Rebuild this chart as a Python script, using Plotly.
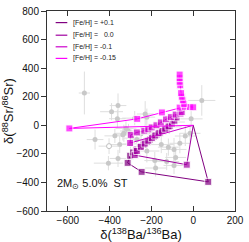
import plotly.graph_objects as go

# ---- grain measurements (grey) ----
grain_x = [-521, -360, -391, -363, -470, -406, -360, -375, -332, -337, -352, -322, -310, -295,
           -222, -184, -92, -153, -222, -230, -280, 41, -10, -100, -38, -64, -92, -84, -115,
           -199, -15, -127, -180, -119, -250, -270, -300]
grain_y = [226, 138, 95, 46, -100, -265, -232, -74, -56, -67, -135, -22, -40, -90,
           -180, -247, -281, -135, 57, 79, 50, 174, 45, 23, -75, -126, -169, -225, -11,
           -56, -56, -254, -299, -153, -60, -100, -130]
grain_ex = [27, 40, 55, 40, 40, 70, 40, 50, 40, 40, 45, 50, 40, 40,
            60, 50, 50, 60, 40, 40, 60, 65, 55, 60, 50, 50, 60, 50, 60,
            60, 50, 60, 50, 50, 50, 40, 40]
grain_ey = [150, 85, 60, 60, 70, 50, 60, 50, 60, 40, 60, 50, 50, 60,
            80, 60, 60, 60, 60, 90, 50, 107, 60, 60, 70, 70, 80, 70, 50,
            60, 60, 60, 60, 60, 50, 60, 60]
hollow_x = [-403]
hollow_y = [-146]
hollow_ex = [50]
hollow_ey = [55]

# ---- AGB model tracks ----
model_names = ["[Fe/H] = +0.1", "[Fe/H] = \u00a0 0.0", "[Fe/H] = -0.1", "[Fe/H] = -0.15"]
model_colors = ["#800080", "#A000A0", "#CC00CC", "#FF00FF"]

x_p01 = [0, 72, -247, -314, -302, -288, -272, -255, -238, -222, -207, -190, -176, -160, -145, -128, -112]
y_p01 = [0, -396, -326, -263, -213, -190, -170, -152, -135, -118, -100, -82, -68, -52, -38, -22, -5]

x_000 = [0, -31, -280, -270, -250, -232, -215, -198, -182, -166, -150, -134, -118, -102, -90, -80]
y_000 = [0, -276, -209, -180, -150, -128, -108, -90, -72, -56, -40, -24, -8, 12, 32, 55]

x_m01 = [0, -302, -299, -270, -234, -215, -199, -176, -155, -130, -107, -84, -61, -55]
y_m01 = [0, -124, -67, -50, -38, -28, -15, 0, 20, 42, 57, 75, 82, 92]

x_m015 = [0, -593, -268, -150, -65, -40, -15, 0, -45, -50, -55, -58, -62, -65, -65, -65]
y_m015 = [0, -22, 45, 90, 124, 130, 128, 126, 150, 175, 200, 225, 280, 305, 330, 355]

models_x = [x_p01, x_000, x_m01, x_m015]
models_y = [y_p01, y_000, y_m01, y_m015]

fig = go.Figure()

# grey grains
fig.add_trace(go.Scatter(
    x=grain_x, y=grain_y, mode="markers",
    marker=dict(size=5, color="#C8C8C8"),
    error_x=dict(type="data", array=grain_ex, color="#DEDEDE", thickness=1, width=0),
    error_y=dict(type="data", array=grain_ey, color="#DEDEDE", thickness=1, width=0),
    showlegend=False, hoverinfo="skip"))
fig.add_trace(go.Scatter(
    x=hollow_x, y=hollow_y, mode="markers",
    marker=dict(size=5, color="white", line=dict(color="#C0C0C0", width=1)),
    error_x=dict(type="data", array=hollow_ex, color="#DEDEDE", thickness=1, width=0),
    error_y=dict(type="data", array=hollow_ey, color="#DEDEDE", thickness=1, width=0),
    showlegend=False, hoverinfo="skip"))

# model tracks (first point = initial composition, no marker)
for mx, my, col, name in zip(models_x, models_y, model_colors, model_names):
    sizes = [0] + [7] * (len(mx) - 1)
    fig.add_trace(go.Scatter(
        x=mx, y=my, mode="lines+markers", name=name,
        line=dict(color=col, width=1),
        marker=dict(symbol="square", size=sizes, color=col),
        showlegend=False))

# dummy trace on right axis
fig.add_trace(go.Scatter(x=[None], y=[None], yaxis="y2", showlegend=False))

# manual legend (line swatches + labels)
leg_y = [0.942, 0.879, 0.821, 0.763]
for yy, col, name in zip(leg_y, model_colors, model_names):
    fig.add_shape(type="line", xref="paper", yref="paper",
                  x0=0.046, x1=0.108, y0=yy, y1=yy,
                  line=dict(color=col, width=1.2))
    fig.add_annotation(xref="paper", yref="paper", x=0.125, y=yy, text=name,
                       showarrow=False, xanchor="left", yanchor="middle",
                       font=dict(size=7, color="#222"))

fig.add_annotation(xref="paper", yref="paper", x=0.045, y=0.135,
                   text="2M<sub>\u2299</sub> 5.0%\u00a0 ST", showarrow=False,
                   xanchor="left", yanchor="middle", font=dict(size=11, color="#111"))

axis_common = dict(showgrid=False, zeroline=False, showline=True, linecolor="#333",
                   linewidth=1, tickcolor="#333", ticklen=5, tickwidth=1,
                   tickfont=dict(size=10, color="#111"), dtick=200)

fig.update_layout(
    width=249, height=242,
    margin=dict(l=43, r=10, t=5, b=30),
    plot_bgcolor="white", paper_bgcolor="white",
    font=dict(family="Liberation Sans, Arial, sans-serif", color="#111"),
    xaxis=dict(range=[-700, 200], ticks="inside", mirror="ticks",
               title=dict(text="\u03b4(<sup>138</sup>Ba/<sup>136</sup>Ba)", font=dict(size=13), standoff=2),
               **axis_common),
    yaxis=dict(range=[-600, 800], ticks="outside", mirror=True,
               title=dict(text="\u03b4(<sup>88</sup>Sr/<sup>86</sup>Sr)", font=dict(size=13), standoff=2),
               **axis_common),
    yaxis2=dict(range=[-600, 800], overlaying="y", side="right", ticks="inside",
                showticklabels=False, showgrid=False, zeroline=False, showline=False,
                tickcolor="#333", ticklen=5, dtick=200),
    showlegend=False,
)

fig.write_html("out.html", config={"displayModeBar": False},
               post_script="document.body.style.margin='0';document.body.style.overflow='hidden';")
